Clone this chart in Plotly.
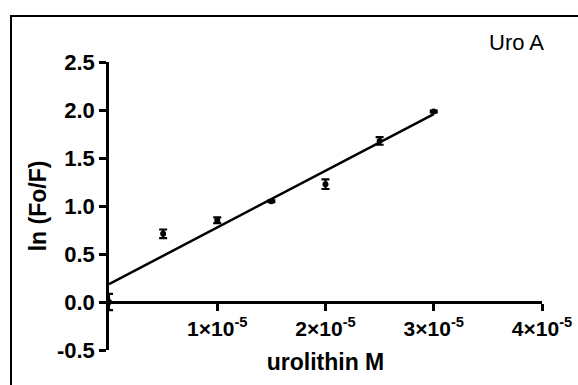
import numpy as np
import plotly.graph_objects as go

conc = [0, 0.5e-5, 1.0e-5, 1.5e-5, 2.0e-5, 2.5e-5, 3.0e-5]
ln_fo_f = [0.0, 0.71, 0.852, 1.05, 1.227, 1.678, 1.985]
err = [0.085, 0.045, 0.03, 0.01, 0.05, 0.04, 0.01]

x_tickvals = [1e-5, 2e-5, 3e-5, 4e-5]
x_ticktext = ["1×10<sup>-5</sup>", "2×10<sup>-5</sup>", "3×10<sup>-5</sup>", "4×10<sup>-5</sup>"]
y_tickvals = [-0.5, 0.0, 0.5, 1.0, 1.5, 2.0, 2.5]
y_ticktext = ["-0.5", "0.0", "0.5", "1.0", "1.5", "2.0", "2.5"]

slope, intercept = np.polyfit(conc, ln_fo_f, 1)
fit_x = [0, 3e-5]
fit_y = [intercept + slope * v for v in fit_x]

fig = go.Figure()
fig.add_trace(go.Scatter(
    x=fit_x, y=fit_y, mode="lines",
    line=dict(color="black", width=2.5), showlegend=False, hoverinfo="skip", cliponaxis=False))
fig.add_trace(go.Scatter(
    x=conc, y=ln_fo_f, mode="markers",
    marker=dict(color="black", size=6),
    error_y=dict(type="data", array=err, visible=True, color="black", thickness=2.2, width=4),
    showlegend=False, cliponaxis=False))

font = "Liberation Sans, Arial, sans-serif"
fig.update_layout(
    width=578, height=385,
    margin=dict(l=109, r=36, t=62, b=35),
    paper_bgcolor="white", plot_bgcolor="white",
    font=dict(family=font, color="black"),
    xaxis=dict(range=[0, 4e-5], tickvals=x_tickvals, ticktext=x_ticktext,
               automargin=False,
               showgrid=False, zeroline=False, showline=True, linecolor="black", linewidth=2.5,
               ticks="outside", ticklen=7, tickwidth=2.5, tickcolor="black",
               anchor="free", position=1/6,
               tickfont=dict(size=21, family=font, weight="bold"),
               title=dict(text="<b>urolithin M</b>", font=dict(size=23, family=font), standoff=14)),
    yaxis=dict(range=[-0.5, 2.5], tickvals=y_tickvals, ticktext=y_ticktext,
               automargin=False,
               showgrid=False, zeroline=False, showline=True, linecolor="black", linewidth=2.5,
               ticks="outside", ticklen=7, tickwidth=2.5, tickcolor="black",
               tickfont=dict(size=22, family=font, weight="bold"),
               title=dict(text="<b>ln (Fo/F)</b>", font=dict(size=23, family=font), standoff=4)),
    shapes=[dict(type="rect", xref="paper", yref="paper",
                 x0=(11 - 109) / 433, x1=(600 - 109) / 433,
                 y0=(350 - 400) / 288, y1=(350 - 16) / 288,
                 line=dict(color="black", width=2), fillcolor="rgba(0,0,0,0)", layer="below")],
    annotations=[dict(text="Uro A", xref="paper", yref="paper",
                      x=(516 - 109) / 433, y=(350 - 43) / 288, showarrow=False,
                      xanchor="center", yanchor="middle",
                      font=dict(size=22, family=font, color="black"))],
)

fig.write_html("out.html", config={"displayModeBar": False},
               post_script="document.body.style.margin='0';document.body.style.overflow='hidden';")
